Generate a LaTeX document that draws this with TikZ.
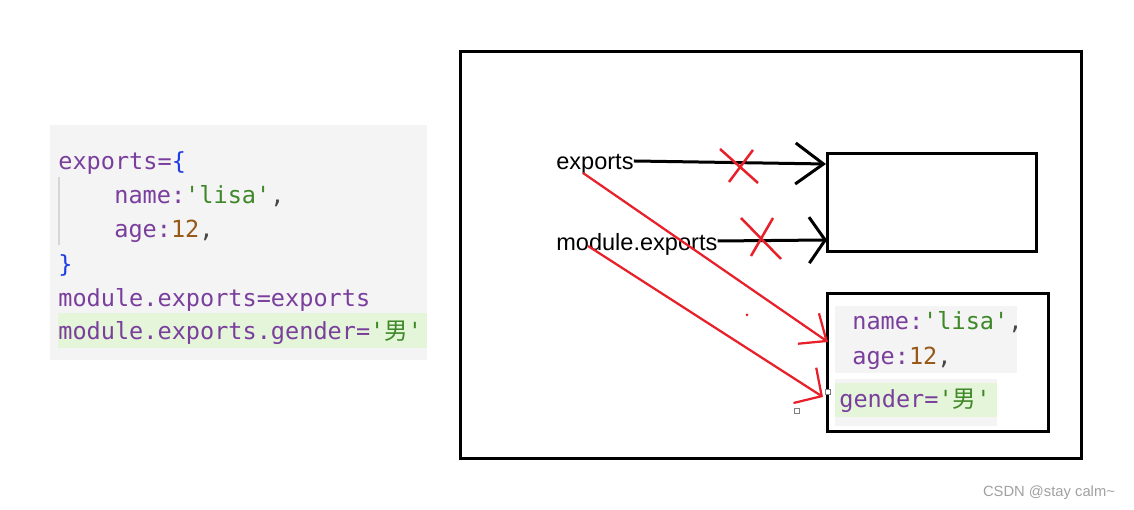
\documentclass[tikz,border=0pt]{standalone}
\usepackage{fontspec}
\setmainfont{Liberation Sans}
\setmonofont{DejaVu Sans Mono}
\newfontfamily\cjk{Noto Sans CJK SC}
\usetikzlibrary{arrows.meta}

\definecolor{codebg}{RGB}{244,244,244}
\definecolor{codeline}{RGB}{229,245,218}
\definecolor{codeguide}{RGB}{214,214,214}
\definecolor{codepurple}{RGB}{122,62,157}
\definecolor{codeblue}{RGB}{28,60,230}
\definecolor{codegreen}{RGB}{62,136,40}
\definecolor{codebrown}{RGB}{152,88,24}
\definecolor{codecomma}{RGB}{70,70,70}
\definecolor{markred}{RGB}{232,32,42}
\definecolor{markgrey}{RGB}{160,160,160}

\newcommand{\kw}[1]{\textcolor{codepurple}{#1}}

\tikzset{
  codetext/.style={anchor=base west, inner sep=0pt, font=\fontsize{13.4}{16}\ttfamily},
  labeltext/.style={anchor=west, inner sep=0pt, font=\fontsize{13.4}{16}\selectfont},
  boxline/.style={line width=0.06cm},
  crossline/.style={markred, line width=0.05cm},
  blackarrow/.style={line width=0.06cm},
  redarrow/.style={markred, line width=0.045cm},
}

\begin{document}
\begin{tikzpicture}
                    \useasboundingbox (0.000000,0.000000) rectangle (22.680000,10.200000);
                    {

                    % Drawing code panel
                    \fill [codebg] (1.000000,3.000000) rectangle (8.540000,7.700000);%
                    \fill [codeline] (1.160000,3.240000) rectangle (8.540000,3.940000);%
                    \draw [codeguide, line width=0.02cm] (1.180000,6.660000) -- (1.180000,5.300000);%

                    % Marking code lines
                    \draw (1.160000,6.800000) node (codeA) [codetext] {\kw{exports=}\textcolor{codeblue}{\{}};%
                    \draw (2.280000,6.120000) node (codeB) [codetext] {\kw{name:}\textcolor{codegreen}{'lisa'}\textcolor{codecomma}{,}};%
                    \draw (2.280000,5.440000) node (codeC) [codetext] {\kw{age:}\textcolor{codebrown}{12}\textcolor{codecomma}{,}};%
                    \draw (1.160000,4.740000) node (codeD) [codetext] {\textcolor{codeblue}{\}}};%
                    \draw (1.160000,4.060000) node (codeE) [codetext] {\kw{module.exports=exports}};%
                    \draw (1.160000,3.400000) node (codeF) [codetext] {\kw{module.exports.gender=}\textcolor{codegreen}{'{\cjk 男}'}};%

                    % Drawing frame
                    \draw [boxline] (9.200000,1.020000) rectangle (21.620000,9.160000);%

                    % Drawing box old
                    \draw [boxline] (16.540000,5.160000) rectangle (20.720000,7.120000);%

                    % Drawing box new
                    \draw [boxline] (16.540000,1.560000) rectangle (20.960000,4.320000);%
                    \fill [codebg] (16.700000,2.740000) rectangle (20.340000,4.080000);%
                    \fill [codebg] (16.700000,1.680000) rectangle (19.940000,2.620000);%
                    \fill [codeline] (16.700000,1.860000) rectangle (19.940000,2.540000);%
                    \draw (17.040000,3.610000) node (boxName) [codetext] {\kw{name:}\textcolor{codegreen}{'lisa'}\textcolor{codecomma}{,}};%
                    \draw (17.040000,2.910000) node (boxAge) [codetext] {\kw{age:}\textcolor{codebrown}{12}\textcolor{codecomma}{,}};%
                    \draw (16.780000,2.040000) node (boxGender) [codetext] {\kw{gender=}\textcolor{codegreen}{'{\cjk 男}'}};%

                    % Marking point exports
                    \draw (11.120000,6.920000) node (expLabel) [labeltext] {exports};%

                    % Marking point module.exports
                    \draw (11.120000,5.320000) node (modLabel) [labeltext] {module.exports};%

                    % Arrow ends
                    \coordinate (expTip) at (16.520000,6.920000);%
                    \coordinate (modTip) at (16.540000,5.400000);%
                    \coordinate (expFoot) at (11.660000,6.740000);%
                    \coordinate (modFoot) at (11.760000,5.280000);%
                    \coordinate (nameTip) at (16.560000,3.360000);%
                    \coordinate (genderTip) at (16.460000,2.260000);%

                    % Drawing segment expLabel expTip
                    \draw [blackarrow, -{Straight Barb[length=0.56cm,width=0.82cm]}] ([yshift=0.06cm]expLabel.east) -- (expTip);%

                    % Drawing segment modLabel modTip
                    \draw [blackarrow, -{Straight Barb[length=0.32cm,width=0.92cm]}] ([yshift=0.06cm]modLabel.east) -- (modTip);%

                    % Marking crosses
                    \draw [crossline] (14.400000,7.220000) -- (15.160000,6.540000);%
                    \draw [crossline] (14.580000,6.560000) -- (15.060000,7.200000);%
                    \draw [crossline] (14.820000,5.840000) -- (15.620000,5.020000);%
                    \draw [crossline] (15.020000,5.080000) -- (15.460000,5.840000);%

                    % Drawing segment expFoot nameTip
                    \draw [redarrow, -{Straight Barb[length=0.44cm,width=0.74cm]}] (expFoot) -- (nameTip);%

                    % Drawing segment modFoot genderTip
                    \draw [redarrow, -{Straight Barb[length=0.40cm,width=0.84cm]}] (modFoot) -- (genderTip);%

                    % Marking stray dot and handles
                    \fill [markred] (14.940000,3.900000) circle (0.030000);%
                    \draw [gray, line width=0.015cm, fill=white] (16.510000,2.310000) rectangle (16.610000,2.410000);%
                    \draw [gray, line width=0.015cm, fill=white] (15.890000,1.930000) rectangle (15.990000,2.030000);%

                    % Marking watermark
                    \draw (20.980000,0.340000) node (mark) [markgrey, inner sep=0pt, font=\fontsize{8.4}{10}\selectfont] {CSDN @stay calm\textasciitilde};%
                    }
\end{tikzpicture}
\end{document}
